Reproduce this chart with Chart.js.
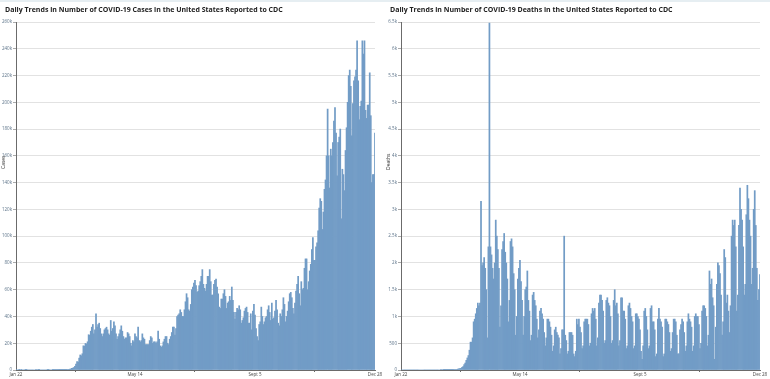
<!DOCTYPE html>
<html>
<head>
<meta charset="utf-8">
<script src="https://cdn.jsdelivr.net/npm/chart.js@4.4.1/dist/chart.umd.min.js"></script>
<style>
  html, body { margin: 0; padding: 0; background: #fff; }
  body { width: 770px; height: 379px; position: relative; overflow: hidden; font-family: "Open Sans", "Noto Sans", sans-serif; }
  .panel { position: absolute; top: 0; width: 385px; height: 379px; }
  .panel canvas { position: absolute; left: 0; top: 0; }
  .title { position: absolute; left: 5px; top: 6px; font-size: 7px; font-weight: 700; color: #222; white-space: nowrap; line-height: 8px; }
  .ytitle { position: absolute; left: 0px; top: 161px; font-size: 5px; color: #333; transform-origin: 0 0; transform: rotate(-90deg); white-space: nowrap; line-height: 6px; }
  .topband { position: absolute; left: 0; top: 0; width: 770px; height: 2px; background: #e6eef2; }
</style>
</head>
<body>
<div class="topband"></div>
<div class="panel" style="left:0">
  <canvas id="c1" width="385" height="379"></canvas>
  <div class="title">Daily Trends in Number of COVID-19 Cases in the United States Reported to CDC</div>
  <div class="ytitle" style="top:169px">Cases</div>
</div>
<div class="panel" style="left:385px">
  <canvas id="c2" width="385" height="379"></canvas>
  <div class="title">Daily Trends in Number of COVID-19 Deaths in the United States Reported to CDC</div>
  <div class="ytitle" style="top:170px">Deaths</div>
</div>
<script>
// ---- categories / tick labels ----
const tickLabels = ['Jan 22', 'May 14', 'Sept 5', 'Dec 28'];
const monthNames = ['Jan','Feb','Mar','Apr','May','Jun','Jul','Aug','Sept','Oct','Nov','Dec'];
const monthLengths = [31,29,31,30,31,30,31,31,30,31,30,28]; // 2020, Dec through the 28th
const categories = [];
for (let m = 0; m < 12; m++) {
  const start = m === 0 ? 22 : 1;
  for (let d = start; d <= monthLengths[m]; d++) categories.push(monthNames[m] + ' ' + d);
}

// ---- daily new cases ----
const casesJan = [1,0,0,1,0,2,0,0,0,1];
const casesFeb = [1,0,0,0,0,0,0,0,0,1,0,1,1,0,0,0,0,0,0,0,1,10,0,0,0,1,1,2,8];
const casesMar = [7,23,19,33,77,53,166,116,75,188,365,439,633,759,1234,1467,1833,2657,4494,6367,5995,8873,11238,10618,12129,18058,17821,19821,19408,21104,26365];
const casesApr = [26000,29000,32000,34000,27000,30000,42000,32000,34000,35000,31000,27000,25000,27000,30000,31000,32000,30000,27000,26000,37000,29000,31000,36000,33000,27000,23000,25000,27000,30000];
const casesMay = [33000,29000,25000,23000,24000,24000,28000,27000,25000,20000,18000,22000,21000,27000,25000,24000,32000,22000,21000,22000,27000,24000,23000,19000,19000,19000,19000,22000,25000,24000,20000];
const casesJun = [21000,21000,20000,21000,29000,23000,18000,17000,18000,21000,23000,25000,25000,20000,19000,23000,25000,28000,32000,32000,26000,31000,40000,41000,42000,45000,43000,40000,40000,45000];
const casesJul = [51000,57000,54000,45000,44000,49000,60000,62000,65000,67000,63000,58000,59000,63000,66000,70000,75000,64000,61000,59000,64000,70000,70000,75000,66000,56000,56000,64000,67000,68000,62000];
const casesAug = [57000,47000,46000,53000,53000,57000,60000,55000,46000,50000,51000,55000,52000,62000,52000,43000,38000,43000,46000,45000,48000,45000,35000,37000,39000,44000,46000,47000,43000,35000,35000];
const casesSep = [42000,30000,44000,49000,41000,31000,25000,22000,34000,36000,47000,40000,34000,36000,39000,40000,45000,48000,43000,37000,50000,38000,39000,44000,52000,45000,35000,33000,42000,40000];
const casesOct = [45000,54000,49000,36000,40000,44000,51000,57000,58000,54000,46000,42000,50000,59000,64000,70000,57000,48000,66000,60000,61000,76000,83000,83000,60000,66000,74000,79000,90000,99000,82000];
const casesNov = [82000,92000,95000,104000,121000,128000,126000,105000,118000,135000,142000,160000,195000,160000,136000,165000,160000,170000,186000,196000,177000,145000,170000,174000,180000,113000,150000,146000,134000,164000];
const casesDec = [181000,200000,220000,224000,212000,175000,199000,216000,219000,224000,246000,216000,187000,197000,201000,246000,236000,246000,194000,188000,198000,198000,222000,190000,140000,146000,146000,177000];

// ---- daily new deaths ----
const deathsJan = [0,0,0,0,0,0,0,0,0,0];
const deathsFeb = [0,0,0,0,0,0,0,0,0,0,0,0,0,0,0,0,0,0,0,0,0,0,0,0,0,0,0,0,1];
const deathsMar = [0,1,1,5,1,2,2,2,4,4,4,7,9,9,10,17,22,27,33,51,66,100,130,180,225,270,370,520,520,600,900];
const deathsApr = [950,1050,1150,1250,1200,1250,3150,1950,2000,2100,1900,1500,600,2300,6480,2300,2150,1900,1700,2000,2800,2500,2250,1900,800,1200,2250,2400,2550,2200];
const deathsMay = [2000,1700,900,1300,2400,2450,2300,1800,1500,650,1000,1700,1900,2050,1650,1300,650,1000,1500,1550,1850,1300,1100,550,650,1400,1450,1300,1200,950,600];
const deathsJun = [750,1100,1150,1050,950,700,450,600,950,950,900,800,650,350,450,750,800,700,650,600,300,400,750,750,2500,650,550,300,350,700];
const deathsJul = [700,700,650,300,250,350,950,850,950,800,700,400,450,900,950,950,950,850,450,500,1050,1150,1100,1150,950,450,600,1250,1400,1400,1300];
const deathsAug = [1100,500,550,1300,1350,1250,1200,1000,500,550,1300,1500,1200,1250,1050,450,550,1350,1350,1100,1100,950,400,450,1200,1250,1150,1000,900,400,450];
const deathsSep = [1050,1050,1000,950,750,350,200,450,1100,1150,1000,750,400,450,1150,1200,900,900,750,250,300,950,1150,950,900,800,250,300,950,950];
const deathsOct = [900,850,700,350,400,700,950,950,900,650,300,300,750,850,950,900,700,350,450,900,1050,950,900,800,350,450,1000,1050,1000,1000,850];
const deathsNov = [400,500,1100,1200,1200,1150,1000,450,650,1850,1600,1700,1350,1200,200,800,1600,2000,1950,1800,1400,650,900,2250,2100,1250,1400,1100,700,1200];
const deathsDec = [2500,2800,2700,2800,2300,1100,1400,2700,3400,3000,2800,2300,1400,1600,2900,3450,3200,2800,2500,1600,1900,3000,3350,2700,1900,1300,1500,1780];

const cases = [].concat(casesJan, casesFeb, casesMar, casesApr, casesMay, casesJun, casesJul, casesAug, casesSep, casesOct, casesNov, casesDec);
const deaths = [].concat(deathsJan, deathsFeb, deathsMar, deathsApr, deathsMay, deathsJun, deathsJul, deathsAug, deathsSep, deathsOct, deathsNov, deathsDec);

const BAR = 'rgb(114,156,198)';
const GRID = '#e2e2e2';
const AXIS = '#6b6b6b';
const TICKTXT = '#5b7288';
const FONT = '"Open Sans", "Noto Sans", sans-serif';

function makeChart(id, data, maxV, step, fmt) {
  return new Chart(document.getElementById(id), {
    type: 'bar',
    data: {
      labels: categories,
      datasets: [{ data: data, backgroundColor: BAR, borderWidth: 0, barPercentage: 1.0, categoryPercentage: 1.0 }]
    },
    options: {
      responsive: false,
      animation: false,
      devicePixelRatio: 1,
      layout: { padding: { left: 0, right: 10, top: 22, bottom: 0 } },
      plugins: { legend: { display: false }, tooltip: { enabled: false }, title: { display: false } },
      scales: {
        x: {
          type: 'category',
          offset: false,
          afterBuildTicks: (axis) => { axis.ticks = axis.ticks.filter(t => tickLabels.includes(categories[t.value])); },
          afterFit: (s) => { s.height = 9; },
          ticks: { autoSkip: false, maxRotation: 0, minRotation: 0, padding: 0, color: '#444', font: { size: 4.5, family: FONT } },
          grid: { drawOnChartArea: false, drawTicks: true, tickLength: 2, color: AXIS },
          border: { display: true, color: AXIS, width: 1 }
        },
        y: {
          min: 0, max: maxV,
          afterFit: (s) => { s.width = 16; },
          ticks: { stepSize: step, padding: 1, color: TICKTXT, font: { size: 4.5, family: FONT }, callback: fmt },
          grid: { color: GRID, lineWidth: 1, drawTicks: true, tickLength: 3, tickColor: '#aaa' },
          border: { display: true, color: AXIS, width: 1 }
        }
      }
    }
  });
}

makeChart('c1', cases, 260000, 20000, v => v === 0 ? '0' : (v / 1000) + 'k');
makeChart('c2', deaths, 6500, 500, v => v === 0 ? '0' : (v < 1000 ? String(v) : (v / 1000) + 'k'));
</script>
</body>
</html>
